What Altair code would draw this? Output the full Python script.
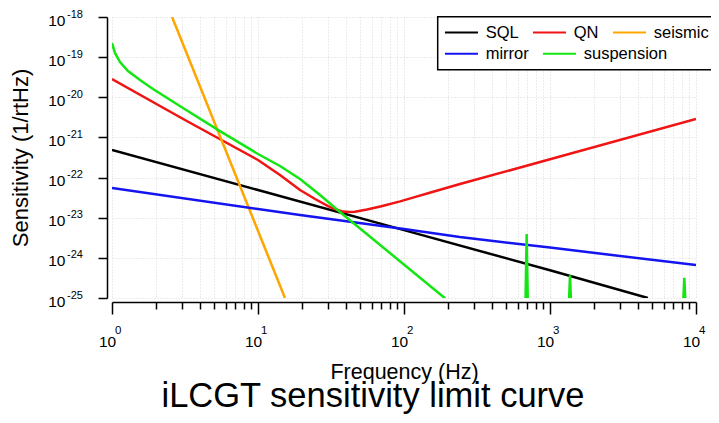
import altair as alt
import pandas as pd

# ---------------- data ----------------
row1_names = ["SQL", "QN", "seismic"]
row1_colors = ["#000000", "#f01414", "#ffa500"]
row2_names = ["mirror", "suspension"]
row2_colors = ["#1414f0", "#14e614"]

sql_f = [1, 10, 100, 1000, 4680]
sql_s = [4.9e-22, 4.9e-23, 4.9e-24, 4.9e-25, 1.0e-25]

qn_f = [1, 3.16, 10, 14.15, 19.4, 24.6, 30.2, 34, 38.2, 42, 46.2, 55.8, 70, 94, 120, 150,
        241.8, 1000, 10000]
qn_s = [2.85e-20, 2.72e-21, 2.74e-22, 1.16e-22, 4.9e-23, 2.92e-23, 1.95e-23, 1.62e-23,
        1.42e-23, 1.38e-23, 1.41e-23, 1.6e-23, 1.93e-23, 2.55e-23, 3.3e-23, 4.2e-23,
        6.9e-23, 2.85e-22, 2.88e-21]

seismic_f = [2.58, 15.3]
seismic_s = [1.0e-18, 1.0e-25]

mirror_f = [1, 10, 19.4, 100, 241, 1000, 10000]
mirror_s = [5.5e-23, 1.65e-23, 1.17e-23, 5.25e-24, 3.3e-24, 1.8e-24, 6.6e-25]

susp_f = [1, 1.048, 1.134, 1.287, 1.555, 1.909, 3.063, 5.49, 10, 14.15, 19.4, 26.6, 36.4, 190,
          300, 680, 692, 704, 1000, 1352, 1371, 1390, 3000, 8200, 8318, 8440, 9500]
susp_s = [2.25e-19, 1.27e-19, 7.55e-20, 4.52e-20, 2.69e-20, 1.61e-20, 5.4e-21, 1.44e-21,
          3.86e-22, 1.94e-22, 9.2e-23, 3.68e-23, 1.39e-23, 1.0e-25,
          1e-28, 1e-25, 3.9e-24, 1e-25, 1e-28, 1e-25, 3.7e-25, 1e-25, 1e-28,
          1e-25, 3.2e-25, 1e-25, 1e-28]

x_tick_values = [m * 10 ** e for e in range(0, 4) for m in range(1, 10)] + [10000]
x_major_values = [1, 10, 100, 1000, 10000]
x_exponents = ["0", "1", "2", "3", "4"]
y_tick_values = [10.0 ** e for e in range(-25, -17)]
y_exponents = ["-25", "-24", "-23", "-22", "-21", "-20", "-19", "-18"]

# ---------------- tables ----------------
rows = []
for name, fs, ss in [("SQL", sql_f, sql_s), ("QN", qn_f, qn_s),
                     ("seismic", seismic_f, seismic_s), ("mirror", mirror_f, mirror_s),
                     ("suspension", susp_f, susp_s)]:
    for i, (f, s) in enumerate(zip(fs, ss)):
        rows.append({"series": name, "f": f, "s": s, "i": i})
df = pd.DataFrame(rows)
df1 = df[df.series.isin(row1_names)]
df2 = df[df.series.isin(row2_names)]

xexp = pd.DataFrame({"f": x_major_values, "s": [1e-25] * 5, "t": x_exponents})
yexp = pd.DataFrame({"f": [1] * 8, "s": y_tick_values, "t": y_exponents})

FONT = "Liberation Sans"
LOGV = "(log(datum.value)/LN10)"
major_test = f"abs({LOGV} - round({LOGV})) < 1e-6"

x_enc = alt.X("f:Q",
              scale=alt.Scale(type="log", domain=[1, 10000], nice=False),
              axis=alt.Axis(values=x_tick_values, labelExpr=f"{major_test} ? '10' : ''",
                            title="Frequency (Hz)", titleFontSize=21.5, titleFont=FONT,
                            titleFontWeight="normal", titleColor="black", titlePadding=12,
                            labelFont=FONT, labelFontSize=15.5, labelColor="black",
                            labelOverlap=False, labelFlush=False, labelPadding=20,
                            labelOffset=-5,
                            tickSize={"condition": {"test": major_test, "value": 12}, "value": 7},
                            tickColor="black", tickWidth=1.5,
                            domainColor="black", domainWidth=1.5, offset=4,
                            grid=True, gridColor="#d8d8d8", gridDash=[1, 2], gridWidth=1))
y_enc = alt.Y("s:Q",
              scale=alt.Scale(type="log", domain=[1e-25, 1e-18], nice=False),
              axis=alt.Axis(values=y_tick_values, labelExpr="'10'",
                            title="Sensitivity (1/rtHz)", titleFontSize=22, titleFont=FONT,
                            titleFontWeight="normal", titleColor="black", titlePadding=15,
                            labelFont=FONT, labelFontSize=15.5, labelColor="black",
                            labelOverlap=False, labelFlush=False, labelPadding=33,
                            labelOffset=3,
                            tickSize=9, tickColor="black", tickWidth=1.5,
                            domainColor="black", domainWidth=1.5, offset=5,
                            grid=True, gridColor="#d8d8d8", gridDash=[1, 2], gridWidth=1))

legend_common = dict(orient="none", legendX=325.7, direction="horizontal",
                     symbolType="M-3,0L3,0", symbolSize=121, symbolStrokeWidth=2,
                     symbolOffset=8, labelOffset=16, labelFont=FONT, labelFontSize=16.5,
                     labelColor="black", padding=7.5, columnPadding=9, labelLimit=0)

lines1 = alt.Chart(df1).mark_line(strokeWidth=2.5, clip=True).encode(
    x=x_enc, y=y_enc,
    color=alt.Color("series:N", scale=alt.Scale(domain=row1_names, range=row1_colors),
                    legend=alt.Legend(legendY=-0.3, strokeColor="black", fillColor="white",
                                      title=" ", titleOrient="bottom", titleFontSize=16.5,
                                      titlePadding=4, **legend_common)),
    order="i:Q",
)
lines2 = alt.Chart(df2).mark_line(strokeWidth=2.5, clip=True).encode(
    x=x_enc, y=y_enc,
    color=alt.Color("series:N", scale=alt.Scale(domain=row2_names, range=row2_colors),
                    legend=alt.Legend(legendY=20.8, strokeColor="transparent",
                                      fillColor="transparent", title=None, **legend_common)),
    order="i:Q",
)
xexp_layer = alt.Chart(xexp).mark_text(align="left", baseline="middle", dx=3, dy=33,
                                       fontSize=11.5, font=FONT, color="black").encode(
    x=x_enc, y=y_enc, text="t:N")
yexp_layer = alt.Chart(yexp).mark_text(align="left", baseline="middle", dx=-45, dy=-2.5,
                                       fontSize=11, font=FONT, color="black").encode(
    x=x_enc, y=y_enc, text="t:N")

chart = alt.layer(lines1, lines2, xexp_layer, yexp_layer).resolve_scale(
    color="independent"
).properties(
    width=584, height=281,
    autosize=alt.AutoSizeParams(type="none"),
    padding={"left": 104, "top": 9, "right": 15, "bottom": 117},
    title=alt.TitleParams("iLCGT sensitivity limit curve", orient="bottom", fontSize=34.5,
                          font=FONT, fontWeight="normal", color="black", dx=-31, offset=-3),
).configure_view(stroke=None).configure_legend(strokeWidth=1.5)

chart.save("out.html", embed_options={"renderer": "svg", "actions": False})
